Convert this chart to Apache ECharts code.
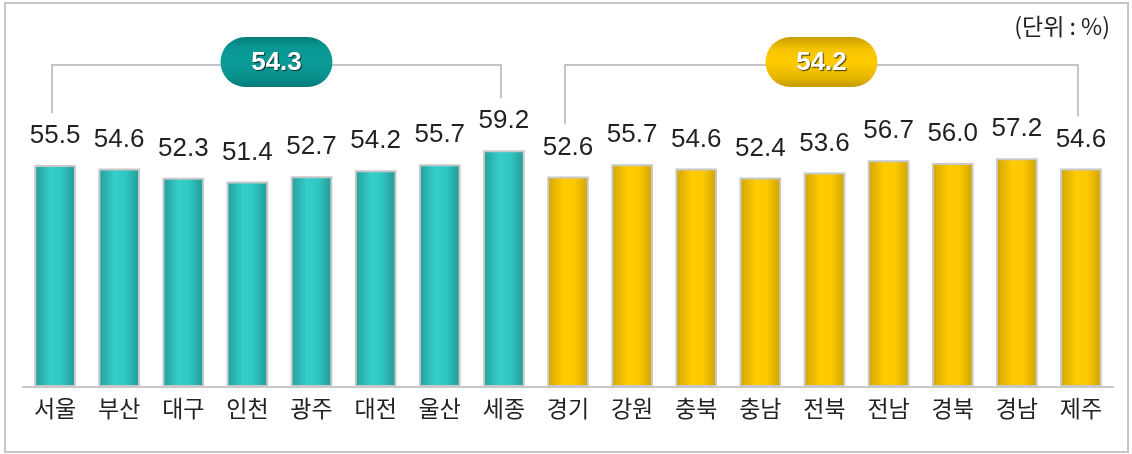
<!DOCTYPE html>
<html>
<head>
<meta charset="utf-8">
<script src="https://cdn.jsdelivr.net/npm/echarts@6/dist/echarts.min.js"></script>
<style>
  html, body { margin: 0; padding: 0; background: #fff; }
  #chart { width: 1132px; height: 454px; }
</style>
</head>
<body>
<div id="chart"></div>
<script>
// 시도별 값 (단위: %)
const regions = ['서울', '부산', '대구', '인천', '광주', '대전', '울산', '세종',
                 '경기', '강원', '충북', '충남', '전북', '전남', '경북', '경남', '제주'];
const values = [55.5, 54.6, 52.3, 51.4, 52.7, 54.2, 55.7, 59.2,
                52.6, 55.7, 54.6, 52.4, 53.6, 56.7, 56.0, 57.2, 54.6];
// 그룹: 특별·광역시 / 도
const groupStart = [0, 8];
const groupEnd = [7, 16];
const groupAvg = [54.3, 54.2];
const unitText = '(단위 : %)';

const FONT = '"Liberation Sans", Arial, "Noto Sans CJK KR", sans-serif';

const tealBar = new echarts.graphic.LinearGradient(0, 0, 1, 0, [
    {offset: 0, color: '#239d99'},
    {offset: 0.4, color: '#35cfcb'},
    {offset: 0.65, color: '#31c6c2'},
    {offset: 1, color: '#229893'}
]);
const goldBar = new echarts.graphic.LinearGradient(0, 0, 1, 0, [
    {offset: 0, color: '#d0a300'},
    {offset: 0.4, color: '#ffcc00'},
    {offset: 0.65, color: '#fcc900'},
    {offset: 1, color: '#cfa200'}
]);
const tealPill = new echarts.graphic.LinearGradient(0, 0, 0, 1, [
    {offset: 0, color: '#047c79'},
    {offset: 0.2, color: '#0a9793'},
    {offset: 0.5, color: '#0c9c98'},
    {offset: 0.8, color: '#08918d'},
    {offset: 1, color: '#05787a'}
]);
const goldPill = new echarts.graphic.LinearGradient(0, 0, 0, 1, [
    {offset: 0, color: '#c89e00'},
    {offset: 0.25, color: '#f5c400'},
    {offset: 0.5, color: '#ffcc00'},
    {offset: 0.8, color: '#e8b800'},
    {offset: 1, color: '#c49a00'}
]);

const barData = values.map((v, i) => ({
    value: v,
    itemStyle: {color: i <= groupEnd[0] ? tealBar : goldBar}
}));

const bracketData = groupStart.map((s, i) => [s, groupEnd[i], groupAvg[i]]);

const myChart = echarts.init(document.getElementById('chart'));
myChart.setOption({
    animation: false,
    grid: {left: 23, right: 19, top: 107, bottom: 67},
    xAxis: {
        type: 'category',
        data: regions,
        axisLine: {lineStyle: {color: '#c8c8c8', width: 2}},
        axisTick: {inside: true, length: 6, lineStyle: {color: '#c8c8c8', width: 2}},
        axisLabel: {
            color: '#222',
            fontSize: 23,
            fontFamily: '"Noto Sans CJK KR", sans-serif',
            margin: 10,
            interval: 0
        }
    },
    yAxis: {
        type: 'value',
        min: 0,
        max: 70,
        show: false
    },
    series: [
        {
            type: 'bar',
            data: barData,
            barCategoryGap: '35%',
            itemStyle: {borderColor: '#c8c8c8', borderWidth: 2},
            label: {
                show: true,
                position: 'top',
                distance: 16,
                color: '#222',
                fontSize: 26,
                fontFamily: FONT,
                formatter: p => p.value.toFixed(1)
            }
        },
        {
            type: 'custom',
            data: bracketData,
            clip: false,
            z: 10,
            encode: {x: 0, y: 2},
            renderItem: function (params, api) {
                const i = params.dataIndex;
                const s = api.value(0), e = api.value(1);
                const a = api.coord([s, values[s]]);
                const b = api.coord([e, values[e]]);
                const x1 = a[0] - 3, x2 = b[0] - 3;
                const lineY = 65;
                const mid = (x1 + x2) / 2;
                return {
                    type: 'group',
                    children: [
                        {
                            type: 'polyline',
                            shape: {points: [[x1, a[1] - 52], [x1, lineY], [x2, lineY], [x2, b[1] - 52]]},
                            style: {stroke: '#c4c4c8', lineWidth: 2, fill: null}
                        },
                        {
                            type: 'rect',
                            shape: {x: mid - 56, y: 37, width: 112, height: 50, r: 25},
                            style: {fill: i === 0 ? tealPill : goldPill}
                        },
                        {
                            type: 'text',
                            x: mid,
                            y: 63,
                            style: {
                                text: api.value(2).toFixed(1),
                                fill: '#fff',
                                font: 'bold 26px ' + FONT,
                                align: 'center',
                                verticalAlign: 'middle',
                                textShadowColor: 'rgba(0,0,0,0.7)',
                                textShadowOffsetX: 1,
                                textShadowOffsetY: 1,
                                textShadowBlur: 1
                            }
                        }
                    ]
                };
            }
        }
    ],
    graphic: [
        {
            type: 'rect',
            shape: {x: 5, y: 3, width: 1123, height: 449},
            style: {fill: null, stroke: '#c6c6c6', lineWidth: 2},
            silent: true
        },
        {
            type: 'text',
            right: 22,
            top: 15,
            style: {
                text: unitText,
                fill: '#222',
                font: '23px "Noto Sans CJK KR", sans-serif'
            }
        }
    ]
});
window.addEventListener('resize', function () {
    myChart.resize();
});
</script>
</body>
</html>
